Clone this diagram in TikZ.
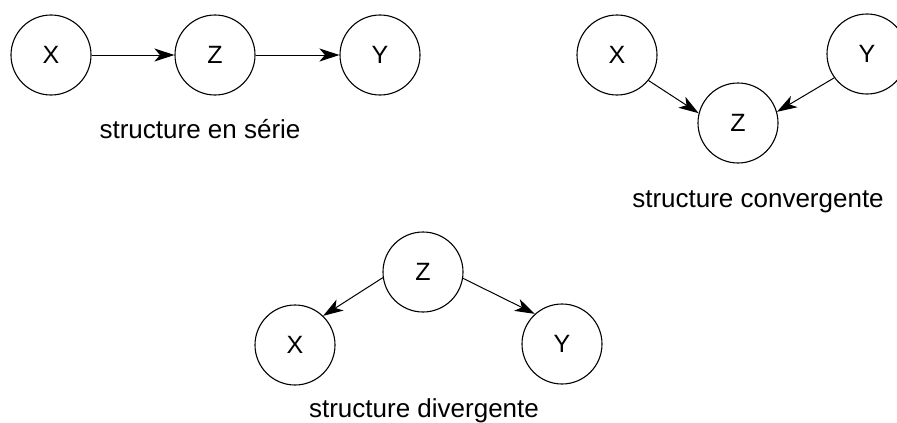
\documentclass[tikz,border=0pt]{standalone}
\usepackage{fontspec}
\setmainfont{Liberation Sans}
\usetikzlibrary{arrows.meta}
\begin{document}
\begin{tikzpicture}[x=1pt,y=-1pt,
  var/.style={circle,draw,line width=1.1pt,minimum size=80pt,inner sep=0pt,font=\fontsize{25}{28}\selectfont},
  lbl/.style={anchor=base,inner sep=0pt,font=\fontsize{26}{30}\selectfont},
  edge/.style={line width=1pt,-{Stealth[length=20pt,width=13pt,inset=5.5pt]}}]
\useasboundingbox (0,0) rectangle (897,423);
% series
\node[var] (sx) at (51,55) {X};
\node[var] (sz) at (215,55) {Z};
\node[var] (sy) at (380,55) {Y};
\draw[edge] (sx.east) -- (sz.west);
\draw[edge] (sz.east) -- (sy.west);
\node[lbl] (sl) at (200,138) {structure en série};
% convergent
\node[var] (cx) at (617,55) {X};
\node[var] (cy) at (867,54) {Y};
\node[var] (cz) at (738,123) {Z};
\draw[edge] (cx.-39) -- (cz.166);
\draw[edge] (cy.216) -- (cz.16);
\node[lbl] (cl) at (758,207) {structure convergente};
% divergent
\node[var] (dz) at (423,272) {Z};
\node[var] (dx) at (295,345) {X};
\node[var] (dy) at (562,344) {Y};
\draw[edge] (dz.188) -- (dx.46);
\draw[edge] (dz.-9) -- (dy.132);
\node[lbl] (dl) at (424,417) {structure divergente};
\end{tikzpicture}
\end{document}
